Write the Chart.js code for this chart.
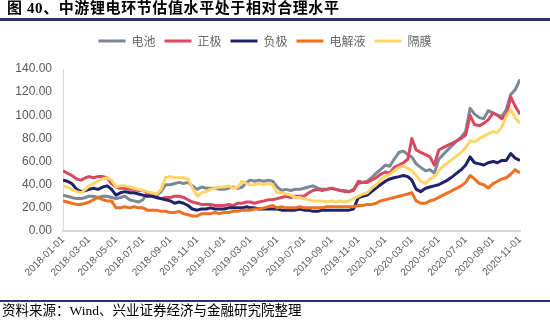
<!DOCTYPE html>
<html>
<head>
<meta charset="utf-8">
<script src="https://cdn.jsdelivr.net/npm/chart.js@4.4.0/dist/chart.umd.min.js"></script>
<style>
  body { margin: 0; background: #fff; }
  #wrap { position: relative; width: 550px; height: 329px; overflow: hidden; }
  #chart { position: absolute; left: 0; top: 0; }
  .title { position: absolute; left: 7px; top: 0px; font: bold 15px/17px "Liberation Serif", "Noto Sans CJK SC", serif; letter-spacing: 0.6px; color: #000; white-space: nowrap; }
  .rule { position: absolute; left: 0; width: 550px; background: #27346f; }
  .src { position: absolute; left: 2px; top: 303px; font: 13.5px/16px "Liberation Serif", "Noto Sans CJK SC", serif; color: #000; white-space: nowrap; }
</style>
</head>
<body>
<div id="wrap">
  <canvas id="chart" width="550" height="329"></canvas>
  <div class="title">图 40、中游锂电环节估值水平处于相对合理水平</div>
  <div class="rule" style="top:18px;height:3px"></div>
  <div class="rule" style="top:300px;height:2px"></div>
  <div class="src">资料来源：Wind、兴业证券经济与金融研究院整理</div>
</div>
<script>
  // 估值序列：每月 1 日、11 日、21 日各取一个点，2018-01-01 至 2020-11-01
  const seriesNames = ["电池", "正极", "负极", "电解液", "隔膜"];
  const seriesColors = ["#7b8794", "#d8485f", "#1f216b", "#ee7021", "#ffd56a"];

  const battery = [
    31, 30, 29, 28, 28, 29, 30, 30, 29, 30, 30, 29, 28, 29, 30, 27, 26, 25,
    27, 33, 32, 31, 34, 40, 40, 41, 42, 41, 42, 39, 36, 38, 37, 37, 37, 36,
    36, 37, 38, 37, 38, 42, 44, 43, 44, 43, 44, 43, 38, 35, 36, 35, 36, 36,
    37, 38, 39, 37, 36, 36, 37, 36, 35, 35, 34, 36, 41, 42, 43, 46, 50, 53,
    57, 56, 62, 68, 69, 66, 64, 58, 55, 52, 53, 50, 62, 66, 70, 74, 78, 81,
    86, 106, 101, 98, 97, 104, 102, 100, 99, 105, 118, 122,
    131
  ];
  const cathode = [
    52, 50, 48, 45, 44, 46, 47, 46, 47, 47, 46, 41, 38, 37, 37, 36, 36, 35,
    35, 33, 31, 29, 28, 29, 29, 30, 30, 29, 27, 25, 24, 23, 23, 23, 22, 22,
    22, 23, 22, 24, 24, 25, 25, 24, 25, 26, 27, 27, 28, 29, 30, 29, 30, 30,
    30, 33, 35, 36, 35, 36, 37, 36, 35, 34, 34, 35, 43, 42, 42, 44, 46, 49,
    51, 50, 55, 57, 59, 62, 80, 70, 68, 66, 64, 57, 70, 72, 74, 76, 78, 80,
    83, 100, 92, 91, 93, 96, 102, 100, 97, 100, 116, 108,
    101
  ];
  const anode = [
    44, 43, 41, 36, 34, 35, 36, 37, 36, 38, 39, 36, 31, 33, 34, 33, 33, 32,
    31, 30, 30, 29, 28, 27, 26, 24, 25, 24, 22, 19, 18, 19, 19, 20, 19, 19,
    19, 20, 20, 20, 20, 21, 20, 20, 19, 19, 19, 19, 19, 18, 18, 18, 18, 19,
    18, 18, 17, 17, 18, 18, 18, 18, 18, 18, 18, 19, 29, 30, 31, 34, 37, 40,
    43, 45, 46, 47, 48, 47, 44, 36, 34, 37, 38, 39, 40, 42, 44, 47, 50, 53,
    57, 64, 59, 58, 57, 59, 60, 59, 61, 61, 67, 63,
    61
  ];
  const electrolyte = [
    26, 25, 24, 23, 23, 24, 25, 27, 29, 27, 26, 26, 20, 20, 21, 20, 21, 20,
    20, 18, 18, 18, 17, 17, 16, 16, 17, 15, 14, 13, 13, 15, 15, 15, 16, 15,
    16, 16, 17, 17, 18, 18, 18, 19, 19, 20, 21, 22, 20, 21, 20, 20, 20, 21,
    20, 20, 20, 20, 20, 21, 21, 21, 21, 21, 21, 21, 22, 22, 23, 23, 24, 26,
    27, 28, 29, 30, 31, 32, 33, 26, 24, 24, 26, 27, 29, 31, 33, 35, 37, 39,
    42, 48, 45, 41, 40, 37, 41, 43, 45, 46, 49, 53,
    50
  ];
  const separator = [
    39, 38, 36, 34, 33, 36, 39, 41, 43, 45, 46, 44, 38, 39, 39, 38, 37, 36,
    35, 34, 33, 32, 36, 46, 47, 46, 46, 46, 45, 37, 30, 33, 34, 36, 37, 38,
    38, 39, 37, 38, 43, 41, 40, 40, 41, 40, 41, 40, 33, 33, 32, 31, 29, 29,
    28, 27, 26, 26, 26, 25, 26, 25, 26, 25, 26, 28, 30, 32, 33, 37, 40, 44,
    47, 49, 52, 55, 56, 54, 52, 48, 43, 41, 45, 47, 52, 56, 59, 62, 65, 68,
    72, 78, 77, 80, 82, 84, 86, 85, 90, 99, 105, 98,
    93
  ];

  const tickLabels = [
    "2018-01-01", "2018-03-01", "2018-05-01", "2018-07-01", "2018-09-01", "2018-11-01",
    "2019-01-01", "2019-03-01", "2019-05-01", "2019-07-01", "2019-09-01", "2019-11-01",
    "2020-01-01", "2020-03-01", "2020-05-01", "2020-07-01", "2020-09-01", "2020-11-01"
  ];

  const pad = (n) => String(n).padStart(2, "0");
  const t0 = Date.UTC(2018, 0, 1);
  const dayOf = (s) => {
    const [y, m, d] = s.split("-").map(Number);
    return (Date.UTC(y, m - 1, d) - t0) / 86400000;
  };

  // 取样日期
  const lastDate = "2020-11-01";
  const sampleDates = [];
  for (let y = 2018; y <= 2020; y++) {
    for (let m = 1; m <= 12; m++) {
      for (const d of [1, 11, 21]) {
        const s = `${y}-${pad(m)}-${pad(d)}`;
        if (s <= lastDate) sampleDates.push(s);
      }
    }
  }

  const allSeries = [battery, cathode, anode, electrolyte, separator];
  const datasets = allSeries.map((vals, i) => ({
    label: seriesNames[i],
    data: vals.map((v, k) => ({ x: dayOf(sampleDates[k]), y: v })),
    borderColor: seriesColors[i],
    backgroundColor: seriesColors[i],
    borderWidth: 3,
    pointRadius: 0,
    tension: 0,
    borderJoinStyle: "round",
    order: allSeries.length - i
  }));

  // 图例下方留白
  const legendGap = {
    id: "legendGap",
    beforeInit(chart) {
      const fit = chart.legend.fit;
      chart.legend.fit = function () {
        fit.bind(chart.legend)();
        this.height += 12;
      };
    }
  };

  const axisFont = { family: "'Liberation Sans', Arial, sans-serif", size: 12 };

  new Chart(document.getElementById("chart"), {
    type: "line",
    data: { datasets },
    plugins: [legendGap],
    options: {
      responsive: false,
      animation: false,
      devicePixelRatio: 1,
      layout: { padding: { left: 10, right: 30, top: 26, bottom: 28 } },
      plugins: {
        tooltip: { enabled: false },
        legend: {
          position: "top",
          reverse: true,
          labels: {
            boxWidth: 27,
            boxHeight: 3,
            padding: 9,
            color: "#666",
            font: { family: "'Noto Sans CJK SC', sans-serif", size: 12 },
            generateLabels: (chart) =>
              Chart.defaults.plugins.legend.labels.generateLabels(chart).map((it) => ({
                ...it, lineWidth: 0, strokeStyle: "rgba(0,0,0,0)"
              }))
          }
        }
      },
      scales: {
        x: {
          type: "linear",
          min: 0,
          max: dayOf(lastDate),
          grid: { display: false, drawTicks: false },
          border: { color: "#d9d9d9", width: 2 },
          afterBuildTicks: (axis) => {
            axis.ticks = tickLabels.map((l) => ({ value: dayOf(l) }));
          },
          afterFit: (s) => { s.height = 70; },
          ticks: {
            autoSkip: false,
            maxRotation: 45,
            minRotation: 45,
            padding: 3,
            color: "#595959",
            font: { family: "'Liberation Sans', Arial, sans-serif", size: 10 },
            callback: (v) => tickLabels.find((l) => dayOf(l) === v) || ""
          }
        },
        y: {
          min: 0,
          max: 140,
          grid: { display: false, drawTicks: false },
          border: { color: "#d9d9d9", width: 1 },
          afterFit: (s) => { s.width = 53; },
          ticks: {
            stepSize: 20,
            padding: 11,
            color: "#595959",
            font: axisFont,
            callback: (v) => v.toFixed(2)
          }
        }
      }
    }
  });
</script>
</body>
</html>
